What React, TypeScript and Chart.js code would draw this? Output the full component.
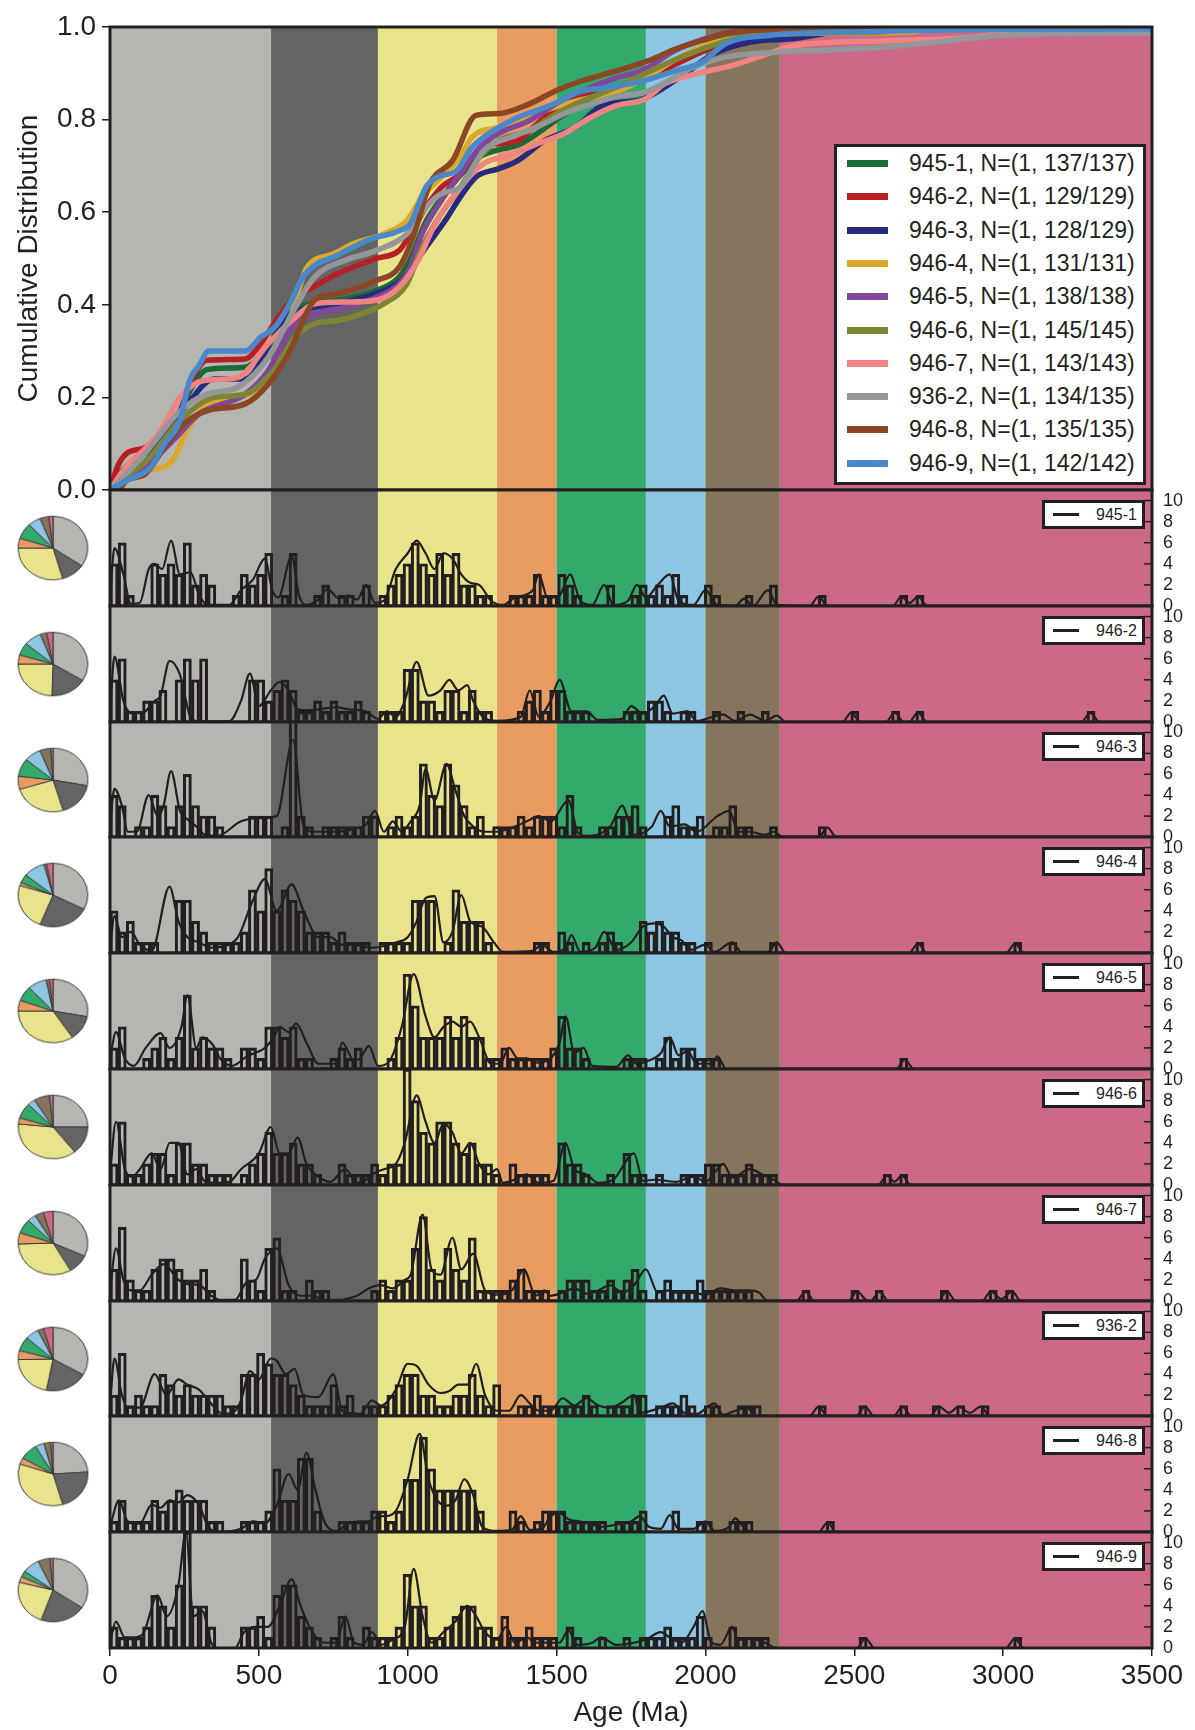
import React, { useEffect, useRef } from 'react';
import { Chart, registerables } from 'chart.js';
Chart.register(...registerables);

// ---------------- DATA ----------------
const AGE_MIN = 0;
const AGE_MAX = 3500;
const AGE_TICKS = [0, 500, 1000, 1500, 2000, 2500, 3000, 3500];
const CDF_TICKS = [0, 0.2, 0.4, 0.6, 0.8, 1.0];
const COUNT_TICKS = [0, 2, 4, 6, 8, 10];
const COUNT_MAX = 11;
const BIN_COUNT = 128;
const BIN_WIDTH = 3500 / 128;

const BAND_EDGES = [0, 541, 900, 1300, 1500, 1800, 2000, 2250, 3500];
const BAND_COLORS = ['#b5b6b1', '#646464', '#e9e48b', '#e99c62', '#33a96c', '#8dc6e3', '#84755c', '#cb6986'];

const SAMPLES = ['945-1', '946-2', '946-3', '946-4', '946-5', '946-6', '946-7', '936-2', '946-8', '946-9'];
const N_TEXT = ['N=(1, 137/137)', 'N=(1, 129/129)', 'N=(1, 128/129)', 'N=(1, 131/131)', 'N=(1, 138/138)',
  'N=(1, 145/145)', 'N=(1, 143/143)', 'N=(1, 134/135)', 'N=(1, 135/135)', 'N=(1, 142/142)'];
const LINE_COLORS = ['#1b6a39', '#b62025', '#262b80', '#dca72a', '#80479b', '#7e8536', '#f08482', '#949699', '#8b4623', '#4a89c9'];

// cumulative distributions [age Ma, fraction]
const CDF_945_1 = [[0,0],[25,0.03],[54,0.05],[119,0.08],[170,0.12],[235,0.17],[274,0.22],[325,0.26],[454,0.265],[506,0.29],[558,0.33],[610,0.385],[661,0.4],[764,0.41],[893,0.43],[971,0.46],[1009,0.5],[1061,0.58],[1113,0.63],[1177,0.68],[1242,0.72],[1306,0.735],[1371,0.745],[1435,0.77],[1500,0.8],[1590,0.835],[1700,0.86],[1800,0.89],[1900,0.92],[2000,0.95],[2100,0.975],[2200,0.99],[2400,0.993],[2750,1],[3500,1]];
const CDF_946_2 = [[0,0],[25,0.05],[54,0.078],[119,0.092],[170,0.121],[235,0.171],[274,0.236],[325,0.28],[454,0.283],[506,0.316],[558,0.366],[610,0.41],[661,0.43],[764,0.467],[893,0.5],[971,0.517],[1009,0.553],[1061,0.61],[1113,0.654],[1177,0.683],[1242,0.737],[1306,0.748],[1371,0.755],[1435,0.791],[1500,0.827],[1590,0.849],[1700,0.87],[1800,0.89],[1900,0.92],[2000,0.95],[2100,0.97],[2250,0.985],[2500,0.99],[2750,0.995],[3300,1],[3500,1]];
const CDF_946_3 = [[0,0],[54,0.03],[119,0.06],[183,0.12],[248,0.175],[351,0.24],[454,0.24],[558,0.337],[610,0.38],[687,0.395],[790,0.406],[893,0.424],[971,0.449],[1022,0.488],[1061,0.524],[1126,0.582],[1177,0.633],[1229,0.676],[1306,0.694],[1371,0.712],[1461,0.755],[1565,0.784],[1646,0.827],[1793,0.845],[1856,0.867],[1939,0.903],[2028,0.942],[2156,0.968],[2300,0.975],[2450,0.99],[3500,1]];
const CDF_946_4 = [[0,0],[54,0.02],[119,0.04],[209,0.063],[260,0.13],[320,0.18],[403,0.2],[467,0.207],[532,0.25],[610,0.38],[661,0.48],[751,0.51],[816,0.532],[919,0.553],[997,0.582],[1048,0.633],[1113,0.676],[1177,0.72],[1216,0.762],[1306,0.784],[1371,0.798],[1461,0.82],[1565,0.84],[1700,0.86],[1800,0.89],[1900,0.93],[2000,0.96],[2100,0.975],[2250,0.985],[2700,0.99],[2750,0.995],[3050,1],[3500,1]];
const CDF_946_5 = [[0,0],[54,0.02],[119,0.05],[170,0.08],[222,0.114],[299,0.164],[454,0.207],[532,0.258],[610,0.352],[687,0.38],[790,0.395],[893,0.416],[971,0.445],[1009,0.481],[1048,0.553],[1113,0.625],[1177,0.683],[1242,0.74],[1306,0.77],[1409,0.798],[1513,0.84],[1590,0.863],[1700,0.89],[1800,0.91],[1900,0.95],[2000,0.975],[2100,0.99],[2650,0.993],[2700,1],[3500,1]];
const CDF_946_6 = [[0,0],[54,0.03],[119,0.06],[170,0.1],[235,0.15],[351,0.2],[454,0.207],[558,0.265],[622,0.33],[687,0.359],[764,0.366],[842,0.38],[919,0.402],[997,0.445],[1048,0.524],[1113,0.597],[1177,0.654],[1242,0.719],[1306,0.755],[1409,0.777],[1500,0.813],[1590,0.841],[1700,0.87],[1800,0.9],[1900,0.93],[2000,0.955],[2100,0.975],[2200,0.985],[2600,0.99],[2700,1],[3500,1]];
const CDF_946_7 = [[0,0],[54,0.05],[119,0.09],[170,0.128],[235,0.2],[312,0.236],[429,0.243],[532,0.316],[610,0.366],[687,0.402],[790,0.406],[893,0.41],[971,0.438],[1035,0.496],[1087,0.568],[1177,0.654],[1255,0.705],[1345,0.723],[1435,0.748],[1526,0.77],[1616,0.805],[1700,0.83],[1800,0.845],[1862,0.877],[1977,0.9],[2091,0.917],[2200,0.94],[2300,0.96],[2600,0.97],[2900,0.978],[3050,0.99],[3500,0.99]];
const CDF_936_2 = [[0,0],[54,0.035],[119,0.08],[170,0.121],[235,0.17],[325,0.207],[429,0.222],[532,0.287],[610,0.38],[687,0.46],[790,0.496],[893,0.517],[997,0.553],[1061,0.61],[1113,0.64],[1177,0.654],[1255,0.733],[1345,0.762],[1435,0.784],[1526,0.813],[1616,0.834],[1700,0.85],[1800,0.86],[1963,0.914],[2067,0.935],[2245,0.946],[2400,0.95],[2667,0.96],[2921,0.978],[3100,0.985],[3500,0.987]];
const CDF_946_8 = [[0,0],[28,0],[54,0.02],[119,0.035],[183,0.092],[248,0.143],[325,0.171],[454,0.186],[532,0.229],[610,0.308],[648,0.366],[687,0.41],[764,0.424],[893,0.452],[971,0.481],[1022,0.553],[1074,0.661],[1151,0.712],[1229,0.809],[1306,0.813],[1409,0.834],[1500,0.863],[1590,0.885],[1646,0.895],[1812,0.928],[1901,0.953],[1990,0.971],[2067,0.986],[2156,0.993],[2400,0.995],[2450,1],[3500,1]];
const CDF_946_9 = [[0,0],[54,0.02],[138,0.05],[183,0.1],[235,0.15],[267,0.236],[300,0.27],[332,0.3],[454,0.3],[506,0.33],[558,0.355],[610,0.41],[648,0.46],[700,0.49],[751,0.503],[803,0.52],[867,0.54],[971,0.56],[1009,0.575],[1061,0.654],[1100,0.676],[1164,0.69],[1216,0.74],[1293,0.778],[1371,0.805],[1435,0.82],[1513,0.84],[1578,0.862],[1646,0.867],[1774,0.881],[1901,0.906],[1990,0.924],[2067,0.964],[2220,0.982],[2540,0.99],[3040,0.995],[3500,0.996]];

// histograms [bin index, count]
const H_945_1 = [[0,4],[1,6],[2,1],[5,4],[6,3],[7,4],[8,3],[9,6],[10,2],[11,3],[12,2],[15,1],[16,3],[17,2],[18,3],[19,5],[21,1],[22,5],[25,1],[26,2],[28,1],[29,1],[31,2],[33,1],[34,2],[35,3],[36,4],[37,6],[38,4],[39,3],[40,5],[41,3],[42,5],[43,2],[44,2],[45,1],[46,1],[49,1],[50,1],[51,1],[52,3],[53,1],[54,1],[55,3],[56,2],[57,1],[61,2],[64,1],[65,2],[66,1],[67,2],[68,1],[69,3],[70,1],[73,2],[74,1],[78,1],[81,2],[87,1],[97,1],[99,1]];
const H_946_2 = [[0,4],[1,6],[2,1],[3,1],[4,2],[5,2],[6,3],[8,4],[9,6],[10,4],[11,6],[17,4],[18,4],[19,2],[20,3],[21,4],[22,3],[23,1],[24,1],[25,2],[26,1],[27,2],[28,1],[29,1],[30,2],[31,1],[33,1],[34,1],[35,1],[36,5],[37,5],[38,2],[39,2],[40,1],[41,3],[42,3],[43,1],[44,3],[45,1],[46,1],[50,1],[51,2],[52,3],[53,1],[54,3],[55,3],[56,1],[57,1],[58,1],[63,1],[64,1],[65,1],[66,2],[67,2],[68,1],[70,1],[71,1],[74,1],[77,1],[80,1],[91,1],[96,1],[99,1],[120,1]];
const H_946_3 = [[0,4],[1,3],[3,1],[4,1],[5,4],[6,3],[7,1],[8,3],[9,6],[10,3],[11,2],[12,2],[13,1],[17,2],[18,2],[19,2],[21,1],[22,12],[23,2],[24,1],[26,1],[27,1],[28,1],[29,1],[30,1],[31,2],[32,2],[34,1],[35,2],[36,1],[37,2],[38,7],[39,4],[40,3],[41,7],[42,5],[43,3],[44,1],[45,2],[47,1],[48,1],[49,1],[50,2],[51,1],[52,2],[53,2],[54,2],[55,1],[56,4],[57,1],[60,1],[61,1],[62,2],[63,2],[64,3],[65,1],[68,2],[69,3],[70,1],[71,1],[72,2],[74,1],[75,1],[76,3],[77,1],[78,1],[81,1],[87,1]];
const H_946_4 = [[0,4],[1,2],[2,3],[3,1],[4,1],[5,1],[8,5],[9,5],[10,3],[11,2],[12,1],[13,1],[14,1],[15,1],[16,2],[17,6],[18,4],[19,8],[20,4],[21,6],[22,5],[23,4],[24,2],[25,2],[26,2],[27,1],[28,2],[29,1],[30,1],[31,1],[33,1],[34,1],[35,1],[36,1],[37,5],[38,5],[39,5],[41,1],[42,6],[43,3],[44,3],[45,3],[46,1],[52,1],[53,1],[55,2],[56,1],[58,1],[60,1],[61,2],[62,1],[65,3],[66,2],[67,3],[68,2],[69,2],[70,1],[71,1],[73,1],[76,1],[81,1],[99,1],[111,1]];
const H_946_5 = [[0,2],[1,4],[4,1],[5,2],[6,3],[7,1],[8,3],[9,7],[10,2],[11,3],[12,2],[13,2],[14,1],[16,2],[17,2],[18,1],[19,4],[20,4],[21,3],[22,4],[23,1],[24,1],[27,1],[28,2],[29,1],[30,2],[34,1],[35,3],[36,9],[37,6],[38,3],[39,3],[40,3],[41,5],[42,3],[43,5],[44,3],[45,3],[46,1],[47,1],[48,2],[49,1],[50,1],[51,1],[52,1],[53,1],[54,2],[55,5],[56,2],[57,2],[58,1],[63,1],[64,1],[65,1],[67,1],[68,3],[69,1],[70,2],[71,2],[72,1],[73,1],[74,1],[97,1]];
const H_946_6 = [[0,2],[1,6],[2,1],[3,1],[4,2],[5,3],[6,3],[7,1],[8,4],[9,4],[10,2],[11,2],[12,1],[13,1],[14,1],[16,1],[17,2],[18,3],[19,5],[20,3],[21,3],[22,4],[23,2],[24,2],[25,1],[28,2],[29,1],[30,1],[31,1],[32,2],[33,1],[34,2],[35,2],[36,11],[37,8],[38,5],[39,4],[40,6],[41,6],[42,4],[43,3],[44,4],[45,2],[46,2],[47,1],[49,2],[50,1],[51,1],[52,1],[53,1],[55,4],[56,2],[57,2],[58,1],[61,1],[63,3],[64,1],[65,1],[67,1],[70,1],[71,1],[72,1],[73,2],[74,2],[75,1],[76,1],[77,1],[78,2],[79,1],[80,1],[81,1],[95,1],[97,1]];
const H_946_7 = [[0,3],[1,7],[2,2],[3,1],[4,1],[5,3],[6,4],[7,4],[8,3],[9,2],[10,2],[11,3],[12,1],[16,4],[17,2],[18,1],[19,5],[20,6],[21,1],[22,1],[24,2],[25,1],[26,1],[32,1],[33,2],[34,1],[35,2],[36,2],[37,5],[38,8],[39,3],[40,2],[41,5],[42,3],[43,2],[44,6],[45,1],[46,1],[47,1],[48,1],[49,2],[50,3],[51,1],[52,1],[53,1],[55,1],[56,2],[57,2],[58,2],[59,1],[60,1],[61,2],[62,1],[63,2],[64,3],[65,1],[67,1],[68,2],[69,1],[70,1],[71,1],[72,2],[73,1],[74,1],[75,1],[76,1],[77,1],[78,1],[85,1],[91,1],[94,1],[102,1],[108,1],[110,1]];
const H_936_2 = [[0,2],[1,6],[2,1],[3,2],[4,1],[5,1],[6,4],[7,3],[8,2],[9,3],[10,2],[11,2],[12,2],[13,2],[14,1],[15,1],[16,4],[17,4],[18,6],[19,5],[20,4],[21,4],[22,3],[23,2],[24,1],[25,1],[26,1],[27,3],[28,1],[29,2],[31,1],[32,1],[33,1],[34,2],[35,3],[36,4],[37,4],[38,2],[39,2],[40,1],[41,1],[42,2],[43,2],[44,4],[45,2],[46,1],[47,3],[50,1],[51,1],[52,2],[53,1],[54,1],[55,1],[56,1],[57,1],[58,2],[59,1],[61,1],[62,1],[63,1],[64,2],[65,2],[67,1],[68,1],[69,1],[70,2],[71,1],[73,1],[74,1],[77,1],[78,1],[79,1],[87,1],[92,1],[97,1],[101,1],[104,1],[107,1]];
const H_946_8 = [[0,1],[1,3],[2,1],[3,1],[4,1],[5,3],[6,2],[7,3],[8,4],[9,3],[10,3],[11,3],[12,1],[13,1],[16,1],[17,1],[18,1],[19,2],[20,6],[21,3],[22,3],[23,7],[24,7],[25,2],[28,1],[29,1],[30,1],[31,1],[32,2],[33,2],[34,1],[35,2],[36,5],[37,5],[38,9],[39,6],[40,4],[41,4],[42,4],[43,4],[44,4],[45,2],[49,2],[50,1],[52,1],[53,2],[54,2],[55,2],[56,1],[57,1],[58,1],[59,1],[60,1],[62,1],[63,1],[64,1],[65,2],[69,2],[72,1],[73,1],[76,1],[77,1],[78,1],[88,1]];
const H_946_9 = [[0,2],[1,1],[2,1],[3,1],[4,2],[5,5],[6,4],[7,2],[8,6],[9,11],[10,4],[11,4],[12,2],[16,2],[17,2],[18,3],[19,1],[20,5],[21,6],[22,6],[23,3],[24,2],[25,1],[27,1],[28,3],[29,1],[31,2],[32,1],[33,1],[34,1],[35,2],[36,7],[37,4],[38,4],[39,1],[40,1],[41,2],[42,3],[43,4],[44,4],[45,2],[46,2],[47,1],[48,3],[49,1],[50,1],[51,2],[52,1],[53,1],[54,1],[56,2],[57,1],[60,1],[63,1],[65,1],[66,1],[67,1],[68,2],[69,1],[70,1],[71,1],[72,3],[73,1],[76,2],[77,1],[78,1],[79,1],[80,1],[92,1],[111,1]];

// kernel density curves [age Ma, scaled density]
const K_945_1 = [[0,0.5],[15,5.5],[45,3],[70,0.2],[100,0.3],[130,3.5],[150,4],[175,3.5],[205,6.2],[235,3],[270,3.2],[300,1],[330,0.1],[400,0.1],[440,1.5],[480,2.5],[520,4.5],[545,1.5],[565,0.8],[610,4.7],[635,1],[660,0.1],[700,0.6],[730,1.6],[770,0.7],[800,1],[830,0.6],[860,2],[890,0.3],[920,0.5],[960,3.5],[1000,5],[1030,6.2],[1060,5],[1090,3.5],[1120,5],[1150,4.5],[1180,3],[1210,2.2],[1240,2],[1280,0.5],[1320,0.1],[1360,0.8],[1420,1.5],[1440,3],[1470,0.8],[1510,1],[1545,3],[1580,0.5],[1620,0.1],[1660,2],[1690,0.1],[1740,0.5],[1770,2],[1800,0.8],[1840,2],[1880,3],[1910,0.5],[1960,0.1],[2000,1.5],[2040,0.1],[2100,0],[2130,0.7],[2160,0],[2210,1.5],[2240,0.1],[2350,0],[2380,0.9],[2410,0],[2630,0],[2658,0.9],[2686,0.3],[2714,0.9],[2745,0],[3500,0]];
const K_946_2 = [[0,1],[15,6.2],[45,2],[70,0.9],[110,0.9],[150,2],[170,2.5],[200,5.8],[235,4.5],[270,0.5],[300,0.05],[400,0.05],[440,2],[470,4.6],[500,1.5],[540,3],[570,3.8],[600,3],[630,1.2],[660,1.1],[700,1.2],[760,1.4],[800,1.2],[860,1],[900,0.3],[930,1],[960,0.5],[990,2],[1030,5.7],[1070,2.5],[1110,3],[1140,4],[1170,3],[1200,3.5],[1220,2],[1260,0.3],[1300,0.1],[1380,0.5],[1410,3],[1440,0.5],[1480,2],[1510,4],[1550,1],[1600,1],[1640,0.2],[1720,0.3],[1750,1.5],[1790,0.8],[1830,1.5],[1860,2.5],[1890,0.8],[1940,1],[1970,0.1],[2060,0.7],[2100,0.1],[2150,0.7],[2200,0.1],[2240,0.6],[2270,0],[2460,0],[2490,0.9],[2520,0],[2606,0],[2636,0.9],[2666,0],[2684,0],[2714,0.9],[2744,0],[3263,0],[3293,0.9],[3323,0],[3500,0]];
const K_946_3 = [[0,1],[15,4.6],[40,3],[60,0.5],[90,0.5],[130,4],[160,2],[180,3],[205,6.3],[235,2.5],[260,1.7],[290,1],[320,0.2],[360,0.1],[440,1.5],[500,1.8],[560,2],[615,9.3],[650,1],[690,0.5],[760,0.5],[820,0.8],[860,1.2],[890,2.5],[920,0.5],[950,1.5],[980,0.5],[1010,1.5],[1040,3],[1060,6.5],[1090,3.5],[1130,7],[1160,4.5],[1190,2],[1220,1],[1260,0.5],[1300,0.5],[1360,1],[1400,1.5],[1440,2],[1480,1.5],[1540,3.5],[1570,0.5],[1600,0.1],[1680,1],[1720,3],[1760,0.2],[1820,1],[1850,2.5],[1880,1],[1930,1.2],[1970,0.5],[2040,2],[2080,2.5],[2110,0.5],[2150,0.5],[2200,0.2],[2230,0.5],[2260,0],[2380,0],[2410,0.9],[2440,0],[3500,0]];
const K_946_4 = [[0,0.5],[15,3.5],[40,1.5],[70,2],[100,0.8],[140,0.2],[200,6.3],[230,3],[260,1.5],[300,1],[340,0.5],[400,0.8],[430,1.5],[480,5],[520,7],[560,4],[610,6.5],[650,4],[700,1.5],[740,1.5],[780,0.8],[820,0.8],[880,0.5],[960,1],[1000,1.5],[1030,3],[1060,5.2],[1090,5.4],[1120,1],[1150,2],[1180,5.5],[1210,3],[1250,2.5],[1290,1],[1320,0.1],[1420,0.2],[1450,0.8],[1490,0.1],[1530,0.5],[1550,1.7],[1580,0.1],[1630,0.5],[1660,2],[1700,0.3],[1750,1],[1790,2.5],[1830,2.8],[1860,2.5],[1890,1.5],[1920,1.2],[1950,0.3],[2000,0.8],[2030,0.1],[2090,1],[2120,0.1],[2210,0.1],[2240,1],[2270,0],[2684,0],[2714,0.9],[2744,0],[3010,0],[3040,0.9],[3070,0],[3500,0]];
const K_946_5 = [[0,1],[20,3.5],[50,1],[80,0.3],[120,2],[170,3.4],[200,2],[240,4],[260,7],[290,2],[310,3],[345,2.3],[370,1],[410,0.3],[460,1.2],[520,2],[550,3],[570,4],[600,3.5],[625,4.3],[660,2.5],[700,0.5],[760,0.5],[780,2.5],[820,0.8],[840,1],[870,2.2],[900,0.3],[940,0.8],[980,4],[1020,9],[1060,5],[1090,3],[1120,4],[1150,4.5],[1180,4],[1210,4.5],[1240,3],[1280,0.5],[1310,0.5],[1340,2],[1370,1],[1400,1],[1430,0.6],[1470,0.8],[1510,2.5],[1530,5],[1560,1.5],[1590,2],[1620,0.3],[1700,0.2],[1740,1.3],[1770,0.5],[1810,0.8],[1850,1.5],[1880,3],[1910,1.3],[1940,1.7],[1970,0.5],[2020,0.5],[2040,1.2],[2070,0],[2640,0],[2670,0.9],[2700,0],[3500,0]];
const K_946_6 = [[0,1],[20,6],[50,1.5],[75,0.8],[100,1.5],[140,3],[170,1.5],[200,4],[230,4],[260,1],[290,1.5],[320,0.3],[350,0.2],[400,0.3],[440,1.5],[500,3],[540,5.5],[570,3],[600,3],[630,4.5],[660,2],[700,0.8],[740,0.3],[790,1.5],[830,0.2],[860,0.5],[880,1],[920,1.5],[960,2],[990,4],[1030,8.5],[1060,6],[1090,4],[1120,5.8],[1150,5],[1180,3],[1210,4],[1240,2],[1270,1],[1300,1.5],[1320,0.2],[1350,0.4],[1400,1],[1440,0.2],[1490,0.4],[1530,4],[1560,1.5],[1600,1],[1640,0.2],[1690,0.5],[1760,3],[1790,0.4],[1830,0.5],[1900,0.3],[1960,0.8],[2000,0.3],[2040,1.5],[2060,2],[2090,0.7],[2150,1.5],[2190,1],[2230,0.5],[2260,0],[2580,0],[2610,0.9],[2635,0.3],[2660,0.9],[2690,0],[3500,0]];
const K_946_7 = [[0,1],[20,5],[45,2],[70,1],[100,1],[140,2.5],[180,3.5],[230,2],[260,1.6],[300,1.5],[340,0.5],[370,0.1],[420,0.1],[460,1.8],[490,2],[520,4],[560,5],[600,1.5],[640,0.5],[680,0.5],[720,0.1],[760,0.1],[830,0.5],[870,1.2],[910,1.5],[950,1.2],[990,2],[1010,2.5],[1050,8.2],[1080,3],[1110,2.5],[1150,6],[1180,3],[1220,4.5],[1260,1],[1300,0.6],[1350,1],[1390,3],[1430,0.5],[1460,1],[1480,0.5],[1520,0.8],[1560,1.2],[1600,0.7],[1640,1],[1680,1.5],[1720,0.8],[1760,1.5],[1800,3],[1840,0.8],[1880,1],[1900,0.8],[1950,0.8],[2000,0.6],[2050,1.2],[2100,1],[2150,1],[2180,0.8],[2210,0],[2306,0],[2336,0.9],[2366,0],[2480,0],[2510,0.9],[2545,0],[2555,0],[2585,0.9],[2615,0],[2781,0],[2811,0.9],[2841,0],[2929,0],[2959,0.9],[2994,0.2],[3030,0.9],[3060,0],[3500,0]];
const K_936_2 = [[0,1],[15,5.5],[40,2],[60,0.8],[100,0.8],[150,4],[190,2],[230,3.5],[260,3],[300,2.5],[330,1.5],[380,0.2],[420,0.5],[440,1.5],[470,4.3],[500,3.5],[540,5.5],[560,5.3],[590,4],[620,4.5],[650,2],[700,1.8],[750,4],[780,0.5],[800,0.3],[840,0.2],[880,1.5],[910,1],[960,2.5],[1000,5],[1030,4.8],[1070,3],[1110,2.2],[1140,2.4],[1170,3],[1200,3],[1230,5],[1260,2],[1300,0.5],[1340,0.5],[1380,2],[1410,1.2],[1440,0.5],[1480,0.5],[1520,1.7],[1560,1],[1600,1.7],[1640,1],[1680,0.8],[1720,1.3],[1760,2],[1780,0.3],[1850,0.8],[1890,1.2],[1930,0.3],[1970,0.2],[2030,1.2],[2060,0.1],[2100,0.5],[2140,0.8],[2170,0],[2350,0],[2380,0.9],[2410,0],[2506,0],[2536,0.9],[2566,0],[2632,0],[2662,0.9],[2692,0],[2755,0],[2785,0.9],[2818,0.3],[2851,0.9],[2888,0.3],[2925,0.9],[2955,0],[3500,0]];
const K_946_8 = [[0,0.5],[30,3],[60,1],[100,0.8],[140,2.6],[170,2.3],[200,3],[230,2.8],[260,3.5],[300,2.5],[330,0.5],[370,0],[440,0.3],[480,1],[520,0.8],[560,2.5],[600,5.5],[630,4],[660,7.5],[690,4],[720,1],[760,0.1],[800,0.8],[840,1],[870,1],[900,1.5],[920,1.5],[960,2],[1000,5],[1040,9.3],[1070,5],[1100,3],[1130,2.5],[1160,3],[1190,5],[1220,3.5],[1250,0.5],[1300,0.1],[1350,0.2],[1380,1.5],[1410,0.2],[1450,0.3],[1480,1.5],[1510,1.8],[1540,1.2],[1580,1],[1610,0.8],[1650,0.5],[1700,0.7],[1750,1],[1780,1.5],[1810,0.5],[1850,0.3],[1880,1.6],[1910,0.3],[1960,0.3],[2000,1],[2030,0.1],[2080,0.5],[2100,1.3],[2130,0.4],[2160,0],[2380,0],[2410,0.9],[2440,0],[3500,0]];
const K_946_9 = [[0,0.5],[20,2.5],[50,1],[80,1],[110,1.3],[160,5],[190,3],[230,6],[255,11],[280,3],[310,3.5],[340,0.5],[360,0],[420,0],[450,1.5],[490,2],[530,2],[570,4],[610,6.5],[640,4],[680,1.5],[720,0.5],[760,0.5],[790,3],[820,0.5],[850,0.3],[880,1.5],[910,0.3],[950,0.8],[990,2],[1020,7.5],[1050,3],[1080,0.5],[1120,1.5],[1160,2.5],[1200,4],[1230,3],[1260,1.5],[1300,0.8],[1330,2],[1360,0.5],[1400,1],[1430,0.5],[1470,0.5],[1510,0.5],[1540,1.7],[1570,0.3],[1620,0.5],[1650,1],[1700,0.3],[1760,0.5],[1800,0.8],[1850,1.5],[1880,1],[1920,0.5],[1960,2],[1990,3.5],[2020,0.5],[2050,0.3],[2090,2],[2110,0.8],[2150,0.9],[2200,0.5],[2240,0],[2508,0],[2538,0.9],[2568,0],[3009,0],[3039,0.9],[3069,0],[3500,0]];

// pie fractions (%), order = BAND_COLORS, clockwise from 12 o'clock
const PIE_945_1 = [34.5, 11, 29.5, 5, 8, 6, 4, 2];
const PIE_946_2 = [33.7, 16.8, 24.5, 4.6, 6.4, 8.1, 2.9, 3];
const PIE_946_3 = [27.8, 17.5, 25, 6.6, 9.2, 7.8, 5, 1.1];
const PIE_946_4 = [32.4, 23.7, 23.7, 1.5, 4.5, 10, 1.2, 3];
const PIE_946_5 = [27.8, 12.8, 34.4, 5.4, 7.6, 8.8, 1.6, 1.6];
const PIE_946_6 = [25, 14.3, 37.2, 3.1, 7.9, 3.6, 7.2, 1.7];
const PIE_946_7 = [31.8, 9.8, 32.9, 5.7, 7.3, 4, 4, 4.5];
const PIE_936_2 = [33.3, 19.8, 21.7, 4.6, 7.2, 6.4, 2.7, 4.4];
const PIE_946_8 = [24, 21.5, 34.6, 3.2, 8.4, 4.1, 3.1, 1.1];
const PIE_946_9 = [34.4, 21.2, 23.3, 3, 3.1, 8, 5.6, 1.4];

const CDFS = [CDF_945_1, CDF_946_2, CDF_946_3, CDF_946_4, CDF_946_5, CDF_946_6, CDF_946_7, CDF_936_2, CDF_946_8, CDF_946_9];
const HISTS = [H_945_1, H_946_2, H_946_3, H_946_4, H_946_5, H_946_6, H_946_7, H_936_2, H_946_8, H_946_9];
const KDES = [K_945_1, K_946_2, K_946_3, K_946_4, K_946_5, K_946_6, K_946_7, K_936_2, K_946_8, K_946_9];
const PIES = [PIE_945_1, PIE_946_2, PIE_946_3, PIE_946_4, PIE_946_5, PIE_946_6, PIE_946_7, PIE_936_2, PIE_946_8, PIE_946_9];

// ---------------- LAYOUT / STYLE ----------------
const FONT = "'Liberation Sans', Arial, Helvetica, sans-serif";
const INK = '#231f20';
const W = 1195;
const H = 1730;
const PLOT_LEFT = 110;
const PLOT_RIGHT = 1152;
const TOP_PLOT_TOP = 27;
const TOP_PLOT_BOTTOM = 490;
const TOP_CANVAS_H = 512;
const PANEL_H = 115.8;
const PAD = 14;
const panelTop = (k: number) => Math.round(TOP_PLOT_BOTTOM + k * PANEL_H);

const noScalePadding = (s: any) => {
  s.paddingTop = 0;
  s.paddingBottom = 0;
  s.paddingLeft = 0;
  s.paddingRight = 0;
};

const bandsPlugin = {
  id: 'bands',
  beforeDatasetsDraw(chart: any) {
    const { ctx, chartArea: a, scales } = chart;
    const x = scales.x;
    ctx.save();
    for (let i = 0; i < BAND_COLORS.length; i++) {
      const x0 = x.getPixelForValue(BAND_EDGES[i]);
      const x1 = x.getPixelForValue(BAND_EDGES[i + 1]);
      ctx.fillStyle = BAND_COLORS[i];
      ctx.fillRect(x0, a.top, x1 - x0, a.bottom - a.top);
    }
    ctx.restore();
  },
  afterDatasetsDraw(chart: any) {
    const { ctx, chartArea: a } = chart;
    ctx.save();
    ctx.strokeStyle = INK;
    ctx.lineWidth = 3;
    ctx.strokeRect(a.left, a.top, a.right - a.left, a.bottom - a.top);
    ctx.restore();
  },
};

const innerTicksPlugin = {
  id: 'innerTicks',
  afterDraw(chart: any) {
    const { ctx, chartArea: a, scales } = chart;
    const y = scales.y;
    ctx.save();
    ctx.strokeStyle = INK;
    ctx.lineWidth = 1.5;
    COUNT_TICKS.forEach((v) => {
      const py = y.getPixelForValue(v);
      ctx.beginPath();
      ctx.moveTo(a.right - 8, py);
      ctx.lineTo(a.right, py);
      ctx.stroke();
    });
    ctx.restore();
  },
};

function TopChart() {
  const ref = useRef<HTMLCanvasElement>(null);
  useEffect(() => {
    const chart = new Chart(ref.current as HTMLCanvasElement, {
      type: 'line',
      data: {
        datasets: CDFS.map((c, i) => ({
          label: SAMPLES[i],
          data: c.map(([x, y]) => ({ x, y })),
          borderColor: LINE_COLORS[i],
          borderWidth: 5.5,
          pointRadius: 0,
          cubicInterpolationMode: 'monotone',
          order: CDFS.length - i,
        })),
      },
      options: {
        animation: false,
        responsive: false,
        events: [],
        layout: { padding: { top: TOP_PLOT_TOP, right: W - PLOT_RIGHT, bottom: TOP_CANVAS_H - TOP_PLOT_BOTTOM, left: 0 } },
        scales: {
          x: { type: 'linear', min: AGE_MIN, max: AGE_MAX, display: false },
          y: {
            type: 'linear',
            min: 0,
            max: 1,
            afterFit: (s: any) => { s.width = PLOT_LEFT; noScalePadding(s); },
            afterBuildTicks: (s: any) => { s.ticks = CDF_TICKS.map((v) => ({ value: v })); },
            ticks: {
              callback: (v: any) => Number(v).toFixed(1),
              font: { family: FONT, size: 28 },
              color: INK,
              padding: 6,
              autoSkip: false,
            },
            grid: { drawOnChartArea: false, drawTicks: true, tickLength: 8, color: INK, lineWidth: 1.5 },
            border: { display: false },
            title: {
              display: true,
              text: 'Cumulative Distribution',
              font: { family: FONT, size: 28 },
              color: INK,
              padding: { top: 12, bottom: 0 },
            },
          },
        },
        plugins: { legend: { display: false }, tooltip: { enabled: false } },
      },
      plugins: [bandsPlugin],
    } as any);
    return () => chart.destroy();
  }, []);
  return (
    <canvas ref={ref} width={W} height={TOP_CANVAS_H}
      style={{ position: 'absolute', left: 0, top: 0, width: W, height: TOP_CANVAS_H }} />
  );
}

function TopLegend() {
  return (
    <div style={{
      position: 'absolute', left: 834, top: 144, width: 312, height: 341,
      boxSizing: 'border-box', border: `3px solid ${INK}`, background: '#fff',
    }}>
      {SAMPLES.map((s, i) => (
        <div key={s} style={{ position: 'absolute', left: 0, top: 0 + i * 33.3, height: 33.3, width: '100%' }}>
          <div style={{ position: 'absolute', left: 10, top: 13, width: 41, height: 7, background: LINE_COLORS[i] }} />
          <div style={{
            position: 'absolute', left: 72, top: 2, fontFamily: FONT, fontSize: 23, color: INK,
            whiteSpace: 'nowrap', lineHeight: '29px',
          }}>{`${s}, ${N_TEXT[i]}`}</div>
        </div>
      ))}
    </div>
  );
}

function HistPanel({ k }: { k: number }) {
  const ref = useRef<HTMLCanvasElement>(null);
  const last = k === SAMPLES.length - 1;
  const t0 = panelTop(k);
  const t1 = panelTop(k + 1);
  const cTop = t0 - PAD;
  const cH = last ? H - cTop : t1 - t0 + 2 * PAD;
  useEffect(() => {
    const counts: (number | null)[] = new Array(BIN_COUNT).fill(null);
    HISTS[k].forEach(([b, c]) => { counts[b] = c; });
    const bars = counts.map((c, i) => ({ x: (i + 0.5) * BIN_WIDTH, y: c }));
    const kde = KDES[k].map(([x, y]) => ({ x, y }));
    const chart = new Chart(ref.current as HTMLCanvasElement, {
      type: 'bar',
      data: {
        datasets: [
          {
            type: 'line',
            data: kde,
            borderColor: INK,
            borderWidth: 2.2,
            pointRadius: 0,
            cubicInterpolationMode: 'monotone',
            order: 1,
          },
          {
            type: 'bar',
            data: bars,
            backgroundColor: 'rgba(0,0,0,0)',
            borderColor: INK,
            borderWidth: 2.4,
            barPercentage: 1,
            categoryPercentage: 1,
            order: 2,
          },
        ],
      },
      options: {
        animation: false,
        responsive: false,
        events: [],
        layout: { padding: { left: PLOT_LEFT, top: PAD, bottom: last ? 0 : PAD, right: 0 } },
        scales: {
          x: {
            type: 'linear',
            min: AGE_MIN,
            max: AGE_MAX,
            offset: false,
            display: last,
            afterFit: (s: any) => { if (last) s.height = H - t1; noScalePadding(s); },
            afterBuildTicks: (s: any) => { s.ticks = AGE_TICKS.map((v) => ({ value: v })); },
            ticks: {
              font: { family: FONT, size: 28 }, color: INK, padding: 3, maxRotation: 0, autoSkip: false,
              callback: (v: any) => String(v),
            },
            grid: { offset: false, drawOnChartArea: false, drawTicks: true, tickLength: 8, color: INK, lineWidth: 1.5 },
            border: { display: false },
            title: {
              display: true, text: 'Age (Ma)', font: { family: FONT, size: 28 }, color: INK,
              padding: { top: 0, bottom: 0 },
            },
          },
          y: {
            type: 'linear',
            position: 'right',
            min: 0,
            max: COUNT_MAX,
            afterFit: (s: any) => { s.width = W - PLOT_RIGHT; noScalePadding(s); },
            afterBuildTicks: (s: any) => { s.ticks = COUNT_TICKS.map((v) => ({ value: v })); },
            ticks: {
              font: { family: FONT, size: 18 }, color: INK, padding: 11, autoSkip: false,
              callback: (v: any) => String(v),
            },
            grid: { display: false, drawTicks: false },
            border: { display: false },
          },
        },
        plugins: { legend: { display: false }, tooltip: { enabled: false } },
      },
      plugins: [bandsPlugin, innerTicksPlugin],
    } as any);
    return () => chart.destroy();
  }, []);
  return (
    <>
      <canvas ref={ref} width={W} height={cH}
        style={{ position: 'absolute', left: 0, top: cTop, width: W, height: cH }} />
      <div style={{
        position: 'absolute', left: 1042, top: t0 + 10, width: 103, height: 29,
        boxSizing: 'border-box', border: `3px solid ${INK}`, background: '#fff',
      }}>
        <div style={{ position: 'absolute', left: 8, top: 10, width: 26, height: 3, background: INK }} />
        <div style={{
          position: 'absolute', left: 51, top: 0, fontFamily: FONT, fontSize: 16, color: INK,
          lineHeight: '23px', whiteSpace: 'nowrap',
        }}>{SAMPLES[k]}</div>
      </div>
    </>
  );
}

function PiePanel({ k }: { k: number }) {
  const ref = useRef<HTMLCanvasElement>(null);
  const size = 72;
  const cy = TOP_PLOT_BOTTOM + k * PANEL_H + 58;
  useEffect(() => {
    const chart = new Chart(ref.current as HTMLCanvasElement, {
      type: 'pie',
      data: {
        labels: BAND_COLORS.map((_, i) => String(i)),
        datasets: [{
          data: PIES[k],
          backgroundColor: BAND_COLORS,
          borderColor: '#3c3c3c',
          borderWidth: 1,
        }],
      },
      options: {
        animation: false,
        responsive: false,
        events: [],
        layout: { padding: 2 },
        plugins: { legend: { display: false }, tooltip: { enabled: false } },
      },
    } as any);
    return () => chart.destroy();
  }, []);
  return (
    <div style={{
      position: 'absolute', left: 53 - size / 2, top: Math.round(cy - size / 2), width: size, height: size,
      transform: 'scale(1.04, 0.95)',
    }}>
      <canvas ref={ref} width={size} height={size} style={{ width: size, height: size }} />
    </div>
  );
}

export default function App() {
  return (
    <div style={{ position: 'absolute', left: 0, top: 0, width: W, height: H, background: '#fff', overflow: 'hidden' }}>
      <TopChart />
      {SAMPLES.map((s, k) => <HistPanel key={s} k={k} />)}
      {SAMPLES.map((s, k) => <PiePanel key={'p' + s} k={k} />)}
      <TopLegend />
    </div>
  );
}
